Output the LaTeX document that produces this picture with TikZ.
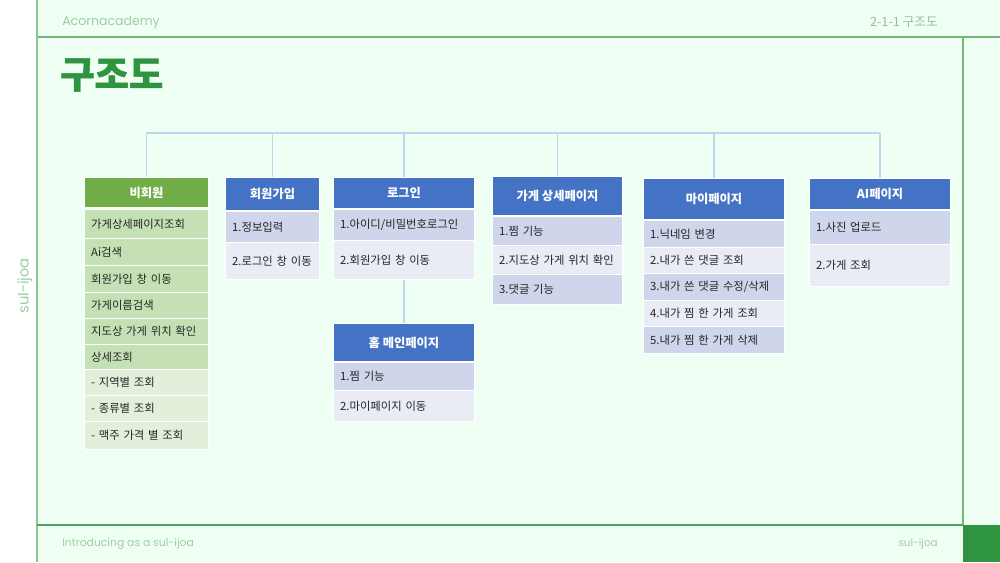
\documentclass[tikz,border=0pt]{standalone}
\usepackage{fontspec}
\setmainfont{Poppins}
\newfontfamily\kr{Noto Sans CJK KR}
\newfontfamily\krtitle[FakeBold=1.2]{Noto Sans CJK KR}
\definecolor{mint}{HTML}{F0FFF4}
\definecolor{framegreen}{HTML}{74B676}
\definecolor{darkgreen}{HTML}{2E9440}
\definecolor{softtext}{HTML}{9ECE9F}
\definecolor{hdrblue}{HTML}{4472C4}
\definecolor{rowdark}{HTML}{CFD5EA}
\definecolor{rowlight}{HTML}{E9EBF5}
\definecolor{hdrgreen}{HTML}{70AD47}
\definecolor{rowgreen}{HTML}{C5E0B4}
\definecolor{rowpale}{HTML}{E2EFDA}
\definecolor{linkblue}{HTML}{BDD7EE}
\tikzstyle{header}=[anchor=north west,inner sep=0pt,draw=white,line width=0.75pt,text=white,font=\kr\bfseries\fontsize{9.2}{11}\selectfont]
\tikzstyle{row}=[anchor=north west,inner ysep=0pt,inner xsep=5pt,align=left,draw=white,line width=0.75pt,text=black!85,font=\kr\fontsize{8.5}{10}\selectfont]
\tikzstyle{link}=[draw=linkblue,line width=0.9pt]
\tikzstyle{softlabel}=[text=softtext,inner sep=0pt]

\begin{document}
\begin{tikzpicture}[x=0.75pt,y=-0.75pt]
    \useasboundingbox (0,0) rectangle (1000,562);
    \fill[white] (0,0) rectangle (37,562);
    \fill[mint] (37,0) rectangle (1000,562);
    \draw[framegreen, line width=1.1pt] (37,37) -- (1000,37);
    \draw[framegreen!80, line width=1pt] (37,0) -- (37,562);
    \draw[framegreen, line width=1pt] (963,37) -- (963,525);
    \draw[darkgreen!85, line width=1.1pt] (37,525) -- (963,525);
    \fill[darkgreen] (963,525) rectangle (1000,562);

    % page texts
    \node[softlabel, anchor=west, font=\fontsize{9.4}{11}\selectfont] (brand) at (62,22) {Acornacademy};
    \node[softlabel, anchor=east, text=softtext!80!gray, font=\kr\fontsize{9.5}{11}\selectfont] (section) at (938,22) {2-1-1 구조도};
    \node[anchor=west, inner sep=0pt, text=darkgreen, font=\krtitle\bfseries\fontsize{28}{30}\selectfont] (title) at (60,75) {구조도};
    \node[softlabel, anchor=west, font=\fontsize{8.1}{10}\selectfont] (footer) at (62,544) {Introducing as a sul-ijoa};
    \node[softlabel, anchor=east, font=\fontsize{7.8}{9}\selectfont] (pagetag) at (938,544) {sul-ijoa};
    \node[softlabel, rotate=90, font=\fontsize{11}{13}\selectfont] (sidetag) at (25,286) {sul-ijoa};

    % headers
    \node[header, fill=hdrgreen, minimum width=93pt, minimum height=22.5pt] (guest) at (84,177) {비회원};
    \node[header, fill=hdrblue, minimum width=70.5pt, minimum height=24.75pt] (signup) at (225,177) {회원가입};
    \node[header, fill=hdrblue, minimum width=105.75pt, minimum height=23.25pt] (login) at (333,177) {로그인};
    \node[header, fill=hdrblue, minimum width=105.75pt, minimum height=28.5pt] (home) at (333,323) {홈 메인페이지};
    \node[header, fill=hdrblue, minimum width=97.5pt, minimum height=29.25pt] (store) at (492,176) {가게 상세페이지};
    \node[header, fill=hdrblue, minimum width=105.75pt, minimum height=30.75pt] (mypage) at (643,178) {마이페이지};
    \node[header, fill=hdrblue, minimum width=105.75pt, minimum height=23.25pt] (aipage) at (809,178) {AI페이지};

    % rows
    \foreach \y/\h/\c/\txt [count=\i] in {209/29/rowgreen/가게상세페이지조회, 238/27/rowgreen/Ai검색,
        265/27/rowgreen/회원가입 창 이동, 292/26/rowgreen/가게이름검색, 318/26/rowgreen/지도상 가게 위치 확인,
        344/25/rowgreen/상세조회, 369/26/rowpale/- 지역별 조회, 395/26/rowpale/- 종류별 조회,
        421/28/rowpale/- 맥주 가격 별 조회}
        \node[row, fill=\c, text width=83pt, minimum height=\h*0.75pt] (guest\i) at (84,\y) {\mbox{\txt}};
    \foreach \y/\h/\c/\txt [count=\i] in {211/31/rowdark/1.정보입력, 242/37/rowlight/2.로그인 창 이동}
        \node[row, fill=\c, text width=60.5pt, minimum height=\h*0.75pt] (signup\i) at (225,\y) {\mbox{\txt}};
    \foreach \y/\h/\c/\txt [count=\i] in {209/31/rowdark/{1.아이디/비밀번호로그인}, 240/39/rowlight/2.회원가입 창 이동}
        \node[row, fill=\c, text width=95.75pt, minimum height=\h*0.75pt] (login\i) at (333,\y) {\mbox{\txt}};
    \foreach \y/\h/\c/\txt [count=\i] in {362/28/rowdark/1.찜 기능, 390/31/rowlight/2.마이페이지 이동}
        \node[row, fill=\c, text width=95.75pt, minimum height=\h*0.75pt] (home\i) at (333,\y) {\mbox{\txt}};
    \foreach \y/\h/\c/\txt [count=\i] in {216/29/rowdark/1.찜 기능, 245/29/rowlight/2.지도상 가게 위치 확인,
        274/30/rowdark/3.댓글 기능}
        \node[row, fill=\c, text width=87.5pt, minimum height=\h*0.75pt] (store\i) at (492,\y) {\mbox{\txt}};
    \foreach \y/\h/\c/\txt [count=\i] in {220/27/rowdark/1.닉네임 변경, 247/26/rowlight/2.내가 쓴 댓글 조회,
        273/27/rowdark/{3.내가 쓴 댓글 수정/삭제}, 300/26/rowlight/4.내가 찜 한 가게 조회,
        326/27/rowdark/5.내가 찜 한 가게 삭제}
        \node[row, fill=\c, text width=95.75pt, minimum height=\h*0.75pt] (mypage\i) at (643,\y) {\mbox{\txt}};
    \foreach \y/\h/\c/\txt [count=\i] in {210/34/rowdark/1.사진 업로드, 244/42/rowlight/2.가게 조회}
        \node[row, fill=\c, text width=95.75pt, minimum height=\h*0.75pt] (aipage\i) at (809,\y) {\mbox{\txt}};

    % tree
    \coordinate (busL) at (146,133);
    \coordinate (busR) at (880,133);
    \draw[link] (busL) -- (busR);
    \foreach \name in {guest, signup, login, store, mypage, aipage}
        \draw[link] (\name.north) -- (\name.north |- busL);
    \draw[link] (login2.south) -- (home.north);

\end{tikzpicture}
\end{document}
